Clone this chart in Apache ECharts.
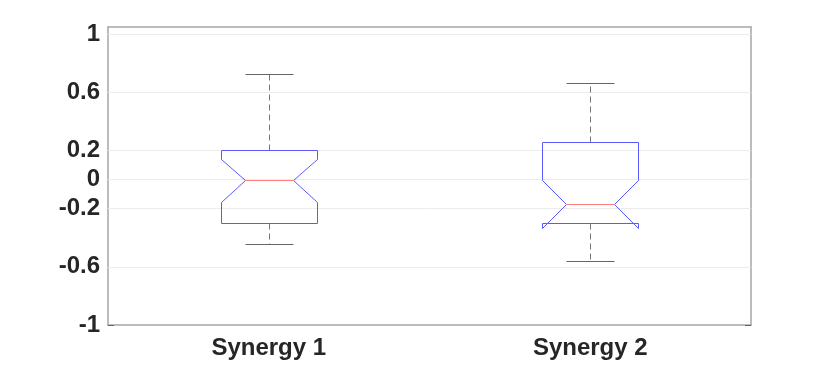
<!DOCTYPE html>
<html>
<head>
<meta charset="utf-8">
<script src="https://cdn.jsdelivr.net/npm/echarts@6/dist/echarts.min.js"></script>
<style>
  html, body { margin: 0; padding: 0; background: #fff; }
  #box { width: 830px; height: 365px; }
</style>
</head>
<body>
<div id="box"></div>
<script>
// values
const categories = ['Synergy 1', 'Synergy 2'];
const lowerWhisker = [-0.44, -0.56];
const q1 = [-0.30, -0.295];
const notchLow = [-0.155, -0.335];
const median = [0.0, -0.17];
const notchHigh = [0.143, 0.0];
const q3 = [0.207, 0.26];
const upperWhisker = [0.725, 0.667];
const yTicks = [-1, -0.6, -0.2, 0, 0.2, 0.6, 1];

let myChart = echarts.init(document.getElementById('box'));

let boxData = [];
for (let i = 0; i < categories.length; i++) {
    boxData.push([i, lowerWhisker[i], q1[i], notchLow[i], median[i], notchHigh[i], q3[i], upperWhisker[i]]);
}

// snap to pixel centres so 1px strokes stay crisp
const px = (v) => Math.round(v) + 0.5;

function renderBox(params, api) {
    let idx = api.value(0);
    let band = api.size([1, 0])[0];
    let half = Math.round(band * 0.15);
    let inner = Math.round(half / 2);
    let cx = px(api.coord([idx, 0])[0]);
    let y = (k) => px(api.coord([idx, api.value(k)])[1]);
    let yLw = y(1), yQ1 = y(2), yNl = y(3), yMed = y(4), yNh = y(5), yQ3 = y(6), yUw = y(7);
    let L = cx - half, R = cx + half;
    let dash = { stroke: '#777', lineWidth: 1, lineDash: [6, 4] };
    let solid = { stroke: '#666', lineWidth: 1 };
    let blue = { stroke: '#5a5aff', lineWidth: 1, fill: null };
    return {
        type: 'group',
        children: [
            { type: 'line', shape: { x1: cx, y1: yQ3, x2: cx, y2: yUw }, style: dash },
            { type: 'line', shape: { x1: cx, y1: yQ1, x2: cx, y2: yLw }, style: dash },
            { type: 'line', shape: { x1: cx - inner, y1: yUw, x2: cx + inner, y2: yUw }, style: solid },
            { type: 'line', shape: { x1: cx - inner, y1: yLw, x2: cx + inner, y2: yLw }, style: solid },
            {
                type: 'polyline',
                shape: {
                    points: [
                        [L, yQ1], [L, yNl], [cx - inner, yMed], [L, yNh], [L, yQ3],
                        [R, yQ3], [R, yNh], [cx + inner, yMed], [R, yNl], [R, yQ1]
                    ]
                },
                style: blue
            },
            { type: 'line', shape: { x1: L, y1: yQ1, x2: R, y2: yQ1 }, style: blue },
            { type: 'line', shape: { x1: cx - inner, y1: yMed, x2: cx + inner, y2: yMed }, style: { stroke: '#ff8080', lineWidth: 1 } }
        ]
    };
}

let axisLineStyle = { color: '#a6a6a6', width: 1.5 };
let tickStyle = { color: '#666', width: 1 };

let option = {
    animation: false,
    grid: { left: 108, right: 79, top: 27, bottom: 40 },
    xAxis: [
        {
            type: 'category',
            data: categories,
            boundaryGap: true,
            axisLine: { onZero: false, lineStyle: axisLineStyle },
            axisTick: { inside: true, alignWithLabel: true, length: 5, lineStyle: tickStyle },
            axisLabel: { fontFamily: 'Liberation Sans, Arial', fontWeight: 'bold', fontSize: 24, color: '#262626', margin: 11 },
            splitLine: { show: false }
        },
        {
            type: 'category',
            position: 'top',
            data: categories,
            boundaryGap: true,
            axisLine: { onZero: false, lineStyle: axisLineStyle },
            axisTick: { inside: true, alignWithLabel: true, length: 5, lineStyle: tickStyle },
            axisLabel: { show: false },
            splitLine: { show: false }
        }
    ],
    yAxis: [
        {
            type: 'value',
            min: -1,
            max: 1.05,
            axisLine: { show: true, onZero: false, lineStyle: axisLineStyle },
            axisTick: { show: true, inside: true, length: 6, customValues: yTicks, lineStyle: tickStyle },
            axisLabel: {
                customValues: yTicks,
                fontFamily: 'Liberation Sans, Arial',
                fontWeight: 'bold',
                fontSize: 24,
                color: '#262626',
                margin: 8,
                formatter: (v) => String(v)
            },
            splitLine: { show: false }
        },
        {
            type: 'value',
            position: 'right',
            min: -1,
            max: 1.05,
            axisLine: { show: true, onZero: false, lineStyle: axisLineStyle },
            axisTick: { show: true, inside: true, length: 6, customValues: yTicks, lineStyle: tickStyle },
            axisLabel: { show: false },
            splitLine: { show: false }
        }
    ],
    series: [
        {
            type: 'line',
            data: [],
            silent: true,
            z: 1,
            markLine: {
                silent: true,
                symbol: 'none',
                label: { show: false },
                lineStyle: { color: '#ebebeb', type: 'solid', width: 1 },
                data: yTicks.filter(v => v > -1).map(v => ({ yAxis: v }))
            }
        },
        {
            type: 'custom',
            renderItem: renderBox,
            encode: { x: 0, y: [1, 2, 3, 4, 5, 6, 7] },
            data: boxData,
            z: 10
        }
    ]
};
myChart.setOption(option);
</script>
</body>
</html>
